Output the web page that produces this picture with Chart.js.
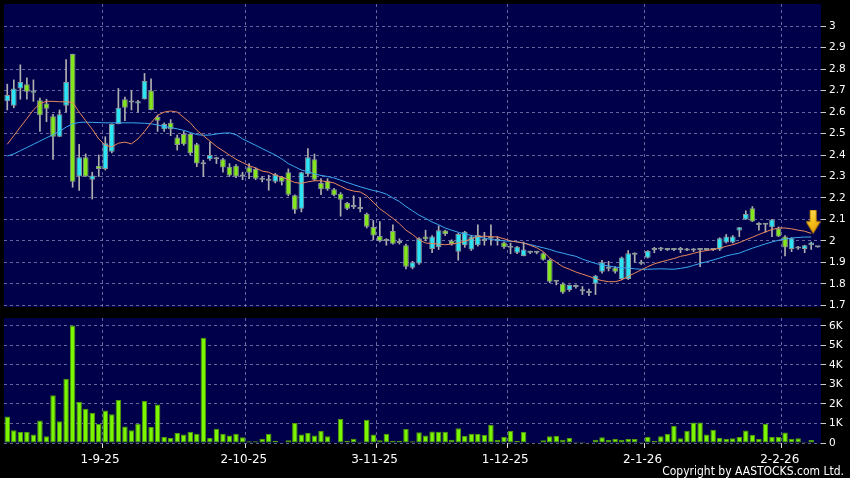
<!DOCTYPE html>
<html>
<head>
<meta charset="utf-8">
<script src="https://cdn.jsdelivr.net/npm/chart.js@4.4.1/dist/chart.umd.min.js"></script>
<style>
  html, body { margin: 0; padding: 0; background: #000; }
  #wrap { position: relative; width: 850px; height: 478px; overflow: hidden; background: #000; }
  #priceCv { position: absolute; left: 0; top: 0; }
  #volCv { position: absolute; left: 0; top: 312px; }
  #copy { position: absolute; right: 6px; top: 464px; color: #fff; white-space: nowrap;
          font: 12px/14px "Liberation Sans Narrow", "DejaVu Sans Condensed", "Liberation Sans", sans-serif; }
</style>
</head>
<body>
<div id="wrap">
  <canvas id="priceCv" width="850" height="312"></canvas>
  <canvas id="volCv" width="850" height="166"></canvas>
  <div id="copy">Copyright by AASTOCKS.com Ltd.</div>
</div>
<script>
// daily candles, oldest first (Aug 2025 -> Feb 2026)
const opens = [2.65,2.63,2.71,2.73,2.69,2.655,2.64,2.58,2.485,2.63,
  2.87,2.30,2.39,2.285,2.35,2.335,2.415,2.545,2.66,2.645,
  2.64,2.66,2.70,2.578,2.52,2.55,2.482,2.498,2.498,2.45,
  2.36,2.38,2.385,2.38,2.345,2.35,2.30,2.343,2.335,2.29,
  2.28,2.275,2.298,2.32,2.213,2.15,2.31,2.38,2.27,2.28,
  2.24,2.22,2.177,2.16,2.15,2.125,2.065,2.023,2.0,2.046,
  1.99,1.98,1.875,1.895,2.02,1.962,1.97,2.048,2.0,1.95,
  1.98,1.96,1.98,2.005,2.012,2.005,1.992,1.97,1.945,1.93,
  1.95,1.948,1.942,1.911,1.812,1.80,1.771,1.785,1.767,1.758,
  1.80,1.856,1.87,1.875,1.822,1.822,1.942,1.903,1.922,1.958,
  1.96,1.958,1.958,1.958,1.962,1.96,1.958,1.958,1.958,1.96,
  1.993,1.993,2.048,2.10,2.152,2.082,2.075,2.063,2.058,2.02,
  1.962,1.973,1.962,1.981,1.97];
const highs = [2.73,2.75,2.82,2.76,2.75,2.665,2.66,2.59,2.61,2.845,
  2.87,2.45,2.405,2.32,2.40,2.485,2.545,2.71,2.67,2.70,
  2.655,2.78,2.755,2.586,2.55,2.565,2.493,2.51,2.50,2.455,
  2.376,2.46,2.39,2.385,2.36,2.355,2.32,2.36,2.34,2.30,
  2.306,2.315,2.30,2.335,2.215,2.32,2.43,2.405,2.29,2.29,
  2.245,2.225,2.18,2.21,2.20,2.13,2.095,2.09,2.01,2.075,
  2.01,1.985,1.905,2.015,2.05,2.025,2.07,2.05,2.005,2.035,
  2.045,2.025,2.075,2.04,2.075,2.02,1.995,1.99,1.975,1.995,
  1.952,1.952,1.945,1.915,1.815,1.805,1.795,1.795,1.788,1.775,
  1.84,1.91,1.905,1.88,1.925,1.955,1.945,1.91,1.955,1.97,
  1.97,1.962,1.962,1.97,1.965,1.965,1.965,1.962,1.965,2.015,
  2.03,2.025,2.063,2.14,2.16,2.085,2.08,2.10,2.065,2.025,
  2.015,1.975,1.98,1.995,1.97];
const lows = [2.61,2.62,2.66,2.66,2.65,2.51,2.555,2.38,2.485,2.60,
  2.25,2.235,2.30,2.195,2.30,2.33,2.41,2.545,2.56,2.61,
  2.60,2.66,2.61,2.51,2.51,2.49,2.423,2.445,2.40,2.346,
  2.30,2.375,2.36,2.32,2.30,2.295,2.285,2.29,2.285,2.275,
  2.236,2.27,2.26,2.21,2.128,2.135,2.30,2.28,2.215,2.235,
  2.21,2.115,2.145,2.15,2.135,2.06,2.005,1.995,1.98,1.985,
  1.985,1.87,1.87,1.89,2.0,1.945,1.96,2.025,1.98,1.91,
  1.97,1.955,1.975,1.98,1.98,1.98,1.965,1.94,1.94,1.93,
  1.94,1.94,1.91,1.805,1.795,1.755,1.765,1.78,1.75,1.745,
  1.75,1.85,1.86,1.85,1.82,1.82,1.90,1.89,1.92,1.945,
  1.955,1.955,1.955,1.945,1.955,1.95,1.88,1.955,1.955,1.955,
  1.99,1.99,2.02,2.10,2.09,2.05,2.04,2.02,2.02,1.93,
  1.95,1.96,1.945,1.96,1.97];
const closes = [2.68,2.71,2.74,2.695,2.70,2.585,2.615,2.485,2.59,2.74,
  2.275,2.39,2.30,2.305,2.335,2.455,2.545,2.62,2.62,2.65,
  2.65,2.745,2.61,2.56,2.545,2.52,2.447,2.45,2.408,2.361,
  2.357,2.40,2.38,2.342,2.305,2.30,2.30,2.317,2.29,2.285,
  2.28,2.31,2.275,2.215,2.145,2.32,2.39,2.285,2.24,2.24,
  2.213,2.192,2.15,2.158,2.148,2.066,2.025,2.0,2.0,1.987,
  1.99,1.88,1.90,2.012,2.008,2.02,2.05,2.032,1.985,2.032,
  2.043,2.02,2.027,2.0,2.01,2.0,1.97,1.968,1.973,1.96,
  1.945,1.945,1.912,1.81,1.81,1.76,1.794,1.793,1.765,1.757,
  1.838,1.90,1.872,1.856,1.923,1.942,1.935,1.893,1.953,1.958,
  1.96,1.958,1.958,1.958,1.955,1.955,1.958,1.958,1.96,2.012,
  2.02,2.02,2.063,2.125,2.09,2.074,2.075,2.10,2.02,1.969,
  2.012,1.965,1.98,1.993,1.97];

// moving averages as drawn on the chart
const maShort = [2.45,2.49,2.53,2.57,2.61,2.64,2.65,2.65,2.648,2.648,
  2.645,2.60,2.56,2.52,2.475,2.445,2.438,2.455,2.46,2.452,
  2.475,2.51,2.55,2.585,2.60,2.605,2.60,2.575,2.55,2.515,
  2.49,2.465,2.44,2.42,2.40,2.38,2.365,2.35,2.34,2.325,
  2.32,2.305,2.298,2.285,2.272,2.268,2.275,2.28,2.28,2.275,
  2.27,2.255,2.24,2.232,2.228,2.21,2.18,2.15,2.128,2.105,
  2.08,2.05,2.03,2.005,1.99,1.988,1.985,1.982,1.985,1.99,
  1.998,2.01,2.02,2.022,2.02,2.018,2.01,2.0,1.995,1.99,
  1.98,1.968,1.95,1.92,1.90,1.88,1.868,1.855,1.845,1.835,
  1.823,1.815,1.81,1.81,1.818,1.835,1.85,1.865,1.88,1.893,
  1.902,1.91,1.918,1.928,1.934,1.942,1.95,1.955,1.96,1.966,
  1.975,1.982,1.992,2.005,2.017,2.03,2.042,2.053,2.06,2.06,
  2.056,2.05,2.045,2.035,null];
const maLong = [2.395,2.405,2.42,2.435,2.45,2.465,2.48,2.495,2.51,2.53,
  2.545,2.552,2.553,2.552,2.551,2.55,2.55,2.55,2.55,2.55,
  2.549,2.548,2.545,2.54,2.532,2.528,2.522,2.515,2.505,2.495,
  2.492,2.493,2.498,2.502,2.503,2.495,2.475,2.46,2.445,2.43,
  2.415,2.40,2.382,2.36,2.345,2.33,2.322,2.312,2.305,2.30,
  2.293,2.283,2.272,2.262,2.252,2.243,2.235,2.228,2.218,2.20,
  2.183,2.16,2.14,2.12,2.105,2.088,2.075,2.06,2.05,2.04,
  2.032,2.025,2.02,2.012,2.007,2.003,2.0,1.998,1.996,1.99,
  1.983,1.975,1.968,1.96,1.95,1.943,1.935,1.928,1.915,1.905,
  1.895,1.888,1.883,1.878,1.875,1.873,1.87,1.868,1.868,1.869,
  1.87,1.869,1.868,1.872,1.877,1.886,1.895,1.903,1.911,1.92,
  1.93,1.937,1.943,1.955,1.966,1.976,1.986,1.995,2.003,2.008,
  2.013,2.016,2.018,2.018,null];

const volumes = [1360,650,560,560,430,1160,340,2450,1110,3290,
  6030,2110,1750,1550,990,1670,1480,2200,850,660,
  990,2150,820,1980,310,260,510,440,580,480,
  5400,260,730,480,390,480,290,90,90,220,
  480,120,20,140,1020,440,510,390,610,340,
  30,1240,120,220,70,1190,440,140,480,120,
  100,720,90,550,390,590,580,580,170,750,
  370,470,460,410,930,150,310,610,100,560,
  30,0,140,340,370,170,250,70,70,30,
  170,290,150,200,150,200,200,70,310,100,
  340,460,880,240,630,1050,1050,440,680,250,
  200,240,310,640,420,200,970,310,310,540,
  200,240,70,150,30];

// axis ticks
const monthStartIdx = [15, 37, 57, 77, 98, 119];
const monthLabels = ['1-9-25', '2-10-25', '3-11-25', '1-12-25', '2-1-26', '2-2-26'];
const priceTicks = [1.7,1.8,1.9,2,2.1,2.2,2.3,2.4,2.5,2.6,2.7,2.8,2.9,3];
const volTicks = [0,1000,2000,3000,4000,5000,6000];
const volTickLabels = ['0','1K','2K','3K','4K','5K','6K'];
const signalMark = [{ x: 123.3, y: 2.09 }];

// ---- styles
const PLOT_BG = '#00004a';
const GRID = 'rgba(120,120,170,0.85)';
const UP = '#2de4f5', DOWN = '#84e61c', FLAT = '#a0a0a0';
const idx = opens.map((_, i) => i);
const lastX = opens.length - 0.5;

const plotBg = {
  id: 'plotBg',
  beforeDraw(c) {
    const a = c.chartArea, g = c.ctx;
    g.save();
    g.fillStyle = PLOT_BG;
    g.fillRect(a.left, a.top, a.right - a.left, a.bottom - a.top);
    g.restore();
  }
};

function makeArrow() {
  const c = document.createElement('canvas');
  c.width = 15; c.height = 24;
  const g = c.getContext('2d');
  const gr = g.createLinearGradient(0, 0, 15, 24);
  gr.addColorStop(0, '#ffe066');
  gr.addColorStop(0.5, '#f4c21c');
  gr.addColorStop(1, '#e59400');
  g.fillStyle = gr;
  g.beginPath();
  g.moveTo(4.5, 0.5); g.lineTo(10.5, 0.5); g.lineTo(10.5, 12); g.lineTo(14.5, 12);
  g.lineTo(7.5, 23.5); g.lineTo(0.5, 12); g.lineTo(4.5, 12); g.closePath();
  g.fill();
  g.strokeStyle = '#c88a00'; g.lineWidth = 1; g.stroke();
  return c;
}

// no automatic label padding: the plot area is set by layout.padding only
function noPad(s) {
  s.paddingTop = 0; s.paddingBottom = 0; s.paddingLeft = 0; s.paddingRight = 0;
}

function xScale(showLabels) {
  return {
    type: 'linear', min: -0.5, max: lastX, offset: false,
    afterBuildTicks: s => { s.ticks = monthStartIdx.map(v => ({ value: v - 0.5 })); },
    afterFit: s => { s.height = showLabels ? 35 : 0; noPad(s); },
    ticks: {
      display: showLabels, color: '#fff', padding: 5, labelOffset: -2, maxRotation: 0,
      font: { family: 'DejaVu Sans', size: 12 },
      callback: (v, i) => monthLabels[i]
    },
    grid: { offset: false, color: GRID, drawTicks: showLabels, tickLength: 5, tickColor: '#ddd', tickBorderDash: [] },
    border: { display: false, dash: [3, 3] }
  };
}

function yScale(min, max, ticks, fmt) {
  return {
    position: 'right', min: min, max: max,
    afterBuildTicks: s => { s.ticks = ticks.map(v => ({ value: v })); },
    afterFit: s => { s.width = 29; noPad(s); },
    ticks: { color: '#fff', padding: 3, font: { family: 'DejaVu Sans', size: 10.5 }, callback: fmt },
    grid: { color: GRID, tickLength: 5, tickColor: '#ccc', tickBorderDash: [] },
    border: { display: false, dash: [3, 3] }
  };
}

const candleColor = idx.map(i => closes[i] > opens[i] ? UP : (closes[i] < opens[i] ? DOWN : FLAT));

new Chart(document.getElementById('priceCv'), {
  type: 'bar',
  data: {
    datasets: [
      { type: 'line', data: signalMark, showLine: false, pointStyle: makeArrow(), pointRadius: 8, order: -1 },
      { type: 'line', data: idx.map(i => ({ x: i, y: maShort[i] })), borderColor: '#e8875a', borderWidth: 1,
        pointRadius: 0, tension: 0, order: 0 },
      { type: 'line', data: idx.map(i => ({ x: i, y: maLong[i] })), borderColor: '#3aa8f0', borderWidth: 1,
        pointRadius: 0, tension: 0, order: 0 },
      { data: idx.map(i => ({ x: i, y: [opens[i], closes[i]] })), backgroundColor: candleColor,
        borderColor: '#8c9696', borderWidth: 1, borderSkipped: false, grouped: false,
        barPercentage: 0.87, categoryPercentage: 1, minBarLength: 2, order: 1 },
      { data: idx.map(i => ({ x: i, y: [lows[i], highs[i]] })), backgroundColor: '#b0b0b0',
        barThickness: 1, grouped: false, order: 2 }
    ]
  },
  options: {
    responsive: false, animation: false, events: [],
    layout: { autoPadding: false, padding: { left: 4, top: 4, right: 0, bottom: 5 } },
    plugins: { legend: { display: false }, tooltip: { enabled: false } },
    scales: {
      x: xScale(false),
      y: yScale(1.6921, 3.1034, priceTicks, v => String(v))
    }
  },
  plugins: [plotBg]
});

new Chart(document.getElementById('volCv'), {
  type: 'bar',
  data: {
    datasets: [
      { data: idx.map(i => ({ x: i, y: volumes[i] })), backgroundColor: '#7cf500',
        borderColor: '#4f9a08', borderWidth: 1, borderSkipped: false,
        barPercentage: 0.84, categoryPercentage: 1 }
    ]
  },
  options: {
    responsive: false, animation: false, events: [],
    layout: { autoPadding: false, padding: { left: 4, top: 6, right: 0, bottom: 0 } },
    plugins: { legend: { display: false }, tooltip: { enabled: false } },
    scales: {
      x: xScale(true),
      y: yScale(0, 6410, volTicks, (v, i) => volTickLabels[i])
    }
  },
  plugins: [plotBg]
});
</script>
</body>
</html>
